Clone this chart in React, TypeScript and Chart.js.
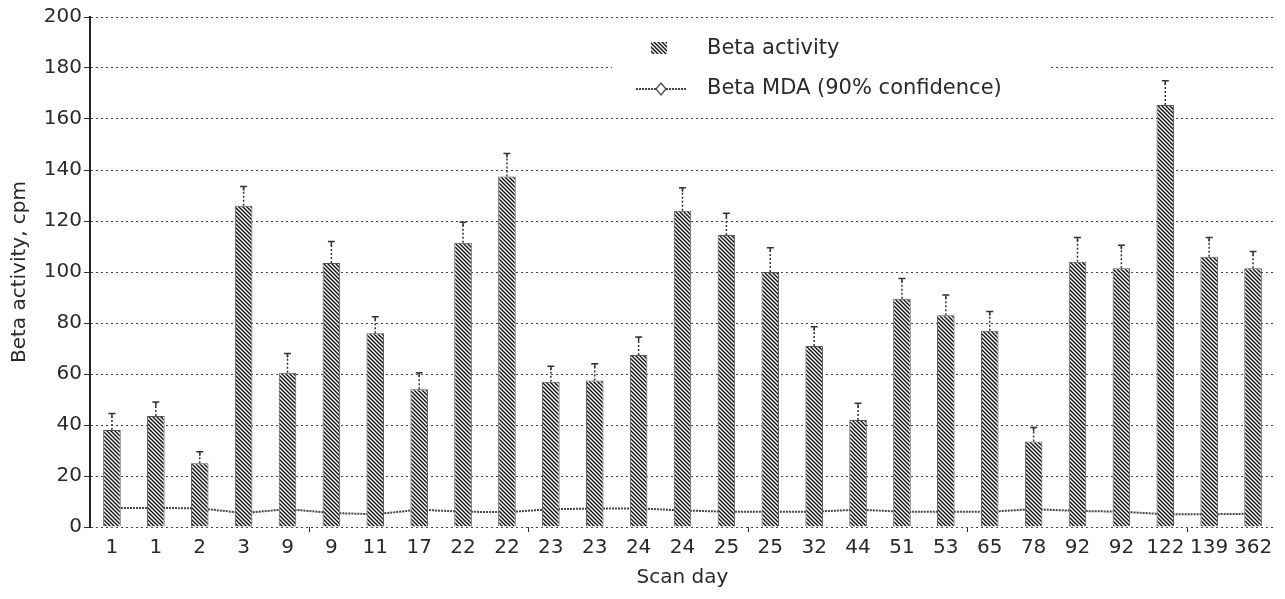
import React, { useEffect, useRef } from 'react';
import { Chart, registerables } from 'chart.js';

Chart.register(...registerables);

const scanDays = ['1', '1', '2', '3', '9', '9', '11', '17', '22', '22', '23', '23', '24', '24', '25', '25', '32', '44', '51', '53', '65', '78', '92', '92', '122', '139', '362'];
const betaActivity = [38, 43.5, 25, 126, 60.5, 103.5, 76, 54, 111.5, 137.5, 57, 57.5, 67.5, 124, 114.5, 100, 71, 42, 89.5, 83, 77, 33.5, 104, 101.5, 165.5, 106, 101.5];
const betaError = [6.5, 5.5, 4.5, 7.5, 7.5, 8.5, 6.5, 6.5, 8, 9, 6, 6.5, 7, 9, 8.5, 9.5, 7.5, 6.5, 8, 8, 7.5, 5.5, 9.5, 9, 9.5, 7.5, 6.5];
const betaMDA = [7.5, 7.5, 7.3, 5.5, 7.0, 5.5, 5.0, 6.8, 6.0, 5.8, 7.0, 7.2, 7.3, 6.5, 6.0, 6.0, 6.0, 6.8, 6.0, 6.0, 6.0, 7.0, 6.3, 6.0, 5.0, 5.0, 5.2];
const yMin = 0;
const yMax = 200;
const yStep = 20;

const labelActivity = 'Beta activity';
const labelMDA = 'Beta MDA (90% confidence)';
const xTitle = 'Scan day';
const yTitle = 'Beta activity, cpm';

const FONT = '"DejaVu Sans", sans-serif';
const INK = '#2a2a2a';

function makeHatch(): CanvasPattern | string {
  const s = 4;
  const c = document.createElement('canvas');
  c.width = s;
  c.height = s;
  const g = c.getContext('2d');
  if (!g) return '#777';
  g.fillStyle = '#fff';
  g.fillRect(0, 0, s, s);
  g.strokeStyle = '#111';
  g.lineWidth = 1.4;
  g.beginPath();
  g.moveTo(-1, -1);
  g.lineTo(s + 1, s + 1);
  g.moveTo(-1, s - 1);
  g.lineTo(1, s + 1);
  g.moveTo(s - 1, -1);
  g.lineTo(s + 1, 1);
  g.stroke();
  return g.createPattern(c, 'repeat') || '#777';
}

export default function App() {
  const ref = useRef<HTMLCanvasElement | null>(null);

  useEffect(() => {
    const canvas = ref.current;
    if (!canvas) return;
    const hatch = makeHatch();

    const errorBars = {
      id: 'errorBars',
      afterDatasetsDraw(chart: any) {
        const meta = chart.getDatasetMeta(0);
        const ys = chart.scales.y;
        const ctx = chart.ctx;
        ctx.save();
        ctx.strokeStyle = '#333';
        ctx.lineWidth = 1.5;
        meta.data.forEach((el: any, i: number) => {
          const x = el.x;
          const top = ys.getPixelForValue(betaActivity[i] + betaError[i]);
          ctx.setLineDash([2, 2]);
          ctx.beginPath();
          ctx.moveTo(x, el.y);
          ctx.lineTo(x, top);
          ctx.stroke();
          ctx.setLineDash([]);
          ctx.beginPath();
          ctx.moveTo(x - 3.5, top);
          ctx.lineTo(x + 3.5, top);
          ctx.moveTo(x, top);
          ctx.lineTo(x, top + 4);
          ctx.stroke();
        });
        ctx.restore();
      },
    };

    const legendBox = {
      id: 'legendBox',
      afterDraw(chart: any) {
        const ctx = chart.ctx;
        ctx.save();
        ctx.fillStyle = '#fff';
        ctx.fillRect(612, 28, 438, 78);
        ctx.fillStyle = hatch;
        ctx.fillRect(651, 42, 16, 12);
        ctx.strokeStyle = '#444';
        ctx.lineWidth = 1.8;
        ctx.setLineDash([2, 1]);
        ctx.beginPath();
        ctx.moveTo(636, 89);
        ctx.lineTo(686, 89);
        ctx.stroke();
        ctx.setLineDash([]);
        ctx.fillStyle = '#fff';
        ctx.strokeStyle = '#444';
        ctx.lineWidth = 1.2;
        ctx.beginPath();
        ctx.moveTo(661, 83);
        ctx.lineTo(666, 89);
        ctx.lineTo(661, 95);
        ctx.lineTo(656, 89);
        ctx.closePath();
        ctx.fill();
        ctx.stroke();
        ctx.fillStyle = INK;
        ctx.font = '21px ' + FONT;
        ctx.textBaseline = 'middle';
        ctx.textAlign = 'left';
        ctx.fillText(labelActivity, 707, 49);
        ctx.fillText(labelMDA, 707, 89);
        ctx.restore();
      },
    };

    const chart = new Chart(canvas, {
      type: 'bar',
      data: {
        labels: scanDays,
        datasets: [
          {
            type: 'bar',
            label: labelActivity,
            data: betaActivity,
            backgroundColor: hatch as any,
            borderColor: '#555',
            borderWidth: 1,
            barPercentage: 0.4,
            categoryPercentage: 1,
            order: 1,
          },
          {
            type: 'line',
            label: labelMDA,
            data: betaMDA,
            borderColor: '#444',
            borderWidth: 2,
            borderDash: [2, 1],
            pointRadius: 0,
            fill: false,
            tension: 0,
            order: 2,
          } as any,
        ],
      },
      options: {
        responsive: false,
        animation: false,
        layout: { padding: { top: 17, right: 10, bottom: 0, left: 0 } },
        plugins: {
          legend: { display: false },
          tooltip: { enabled: false },
        },
        scales: {
          x: {
            offset: true,
            grid: {
              offset: true,
              drawOnChartArea: false,
              drawTicks: true,
              tickLength: 5,
              color: (c: any) => (c.index % 5 === 0 && c.index > 0 && c.index < scanDays.length ? '#333' : 'rgba(0,0,0,0)'),
            },
            border: { display: false },
            ticks: {
              color: INK,
              font: { family: FONT, size: 20 },
              padding: 4,
              autoSkip: false,
              maxRotation: 0,
              minRotation: 0,
            },
            title: {
              display: true,
              text: xTitle,
              color: INK,
              font: { family: FONT, size: 20 },
              padding: { top: 0, bottom: 9 },
            },
            afterFit: (scale: any) => {
              scale.height = 72;
            },
          },
          y: {
            min: yMin,
            max: yMax,
            ticks: {
              stepSize: yStep,
              color: INK,
              font: { family: FONT, size: 20 },
              padding: 2,
            },
            grid: {
              color: '#444',
              lineWidth: 1,
              tickLength: 6,
              tickColor: '#333',
            },
            border: { display: true, color: '#222', width: 2, dash: [2, 3] },
            title: {
              display: true,
              text: yTitle,
              color: INK,
              font: { family: FONT, size: 20 },
              padding: { top: 8, bottom: 0 },
            },
            afterFit: (scale: any) => {
              scale.width = 90;
            },
          },
        },
      },
      plugins: [errorBars, legendBox],
    });

    return () => chart.destroy();
  }, []);

  return (
    <div style={{ position: 'fixed', left: 0, top: 0, width: 1285, height: 599, background: '#fff' }}>
      <canvas ref={ref} width={1285} height={599} style={{ display: 'block' }} />
    </div>
  );
}
